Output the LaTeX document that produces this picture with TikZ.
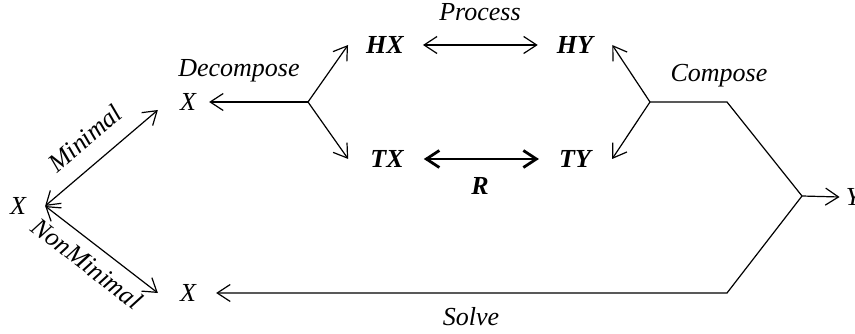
\documentclass[tikz,border=0pt]{standalone}
\usepackage{fontspec}
\setmainfont{Liberation Serif}
\usetikzlibrary{arrows.meta}

\begin{document}
\begin{tikzpicture}[x=1pt, y=-1pt,
	every node/.style={font=\fontsize{26}{30}\selectfont\itshape, inner sep=0pt},
	strong/.style={font=\fontsize{26}{30}\selectfont\bfseries\itshape},
	word/.style={anchor=base},
	wire/.style={line width=1.2pt},
	arr/.style={wire, -{Straight Barb[length=13pt,width=17pt]}},
	both/.style={wire, {Straight Barb[length=13pt,width=17pt]}-{Straight Barb[length=13pt,width=17pt]}}]

	\useasboundingbox (0,0) rectangle (855,334);

	\node (x0) at (18, 206) {X};
	\node (x1) at (188, 102) {X};
	\node (x2) at (188, 293) {X};
	\node[strong] (hx) at (385, 45) {HX};
	\node[strong] (hy) at (575, 45) {HY};
	\node[strong] (tx) at (387, 159) {TX};
	\node[strong] (ty) at (575, 159) {TY};
	\node (y) at (853, 197) {Y};

	\node[word] (process) at (480, 21) {Process};
	\node[strong, anchor=base] (r) at (480, 195) {R};
	\node[word] (decompose) at (239, 77) {Decompose};
	\node[word] (compose) at (719, 82) {Compose};
	\node[word] (solve) at (471, 325) {Solve};

	\coordinate (dec) at (308, 102);
	\coordinate (cmp) at (650, 102);
	\coordinate (c1) at (727, 102);
	\coordinate (c2) at (802, 196);
	\coordinate (c3) at (727, 293);

	\draw[both] ([xshift=19pt]x0.east) -- node[sloped, above=16pt, pos=0.5] (minimal) {Minimal} ([shift={(-22,8)}]x1.west);
	\draw[both] ([xshift=19pt]x0.east) -- node[sloped, below=10pt, pos=0.48] (nonminimal) {NonMinimal} ([xshift=-22pt]x2.west);

	\draw[arr] (dec) -- ([xshift=13pt]x1.east);
	\draw[arr] (dec) -- ([xshift=-18pt]hx.west);
	\draw[arr] (dec) -- ([xshift=-22pt]tx.west);

	\draw[both, shorten >=19pt, shorten <=19pt] (hx.east) -- (hy.west);
	\draw[both, line width=2.8pt, shorten >=20pt, shorten <=20pt] (tx.east) -- (ty.west);

	\draw[arr] (cmp) -- ([xshift=19pt]hy.east);
	\draw[arr] (cmp) -- ([xshift=21pt]ty.east);
	\draw[arr] (cmp) -- (c1) -- (c2) -- ([xshift=-6pt]y.west);
	\draw[arr] (c2) -- (c3) -- ([xshift=20pt]x2.east);

\end{tikzpicture}
\end{document}
